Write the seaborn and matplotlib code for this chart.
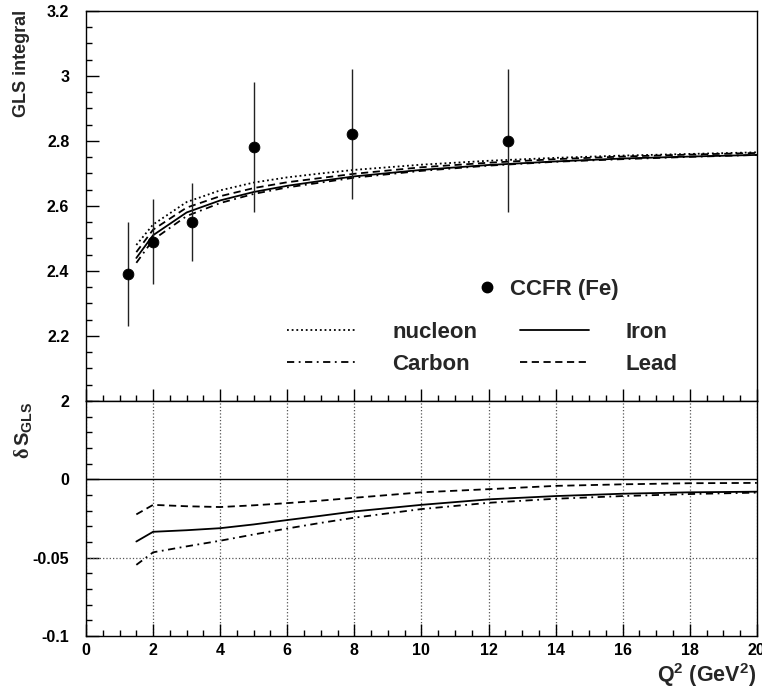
import matplotlib
matplotlib.use('Agg')
import matplotlib.pyplot as plt
from matplotlib.lines import Line2D
from matplotlib.ticker import MultipleLocator, FixedLocator, FuncFormatter
import seaborn as sns
import numpy as np

# CCFR (Fe) data points
ccfr_q2 = [1.26, 2.00, 3.16, 5.01, 7.94, 12.59]
ccfr_gls = [2.39, 2.49, 2.55, 2.78, 2.82, 2.80]
ccfr_err = [0.16, 0.13, 0.12, 0.20, 0.20, 0.22]

# theory curves
q2 = [1.5, 2, 3, 4, 5, 6, 7, 8, 10, 12, 14, 16, 18, 20]
gls_nucleon = [2.480, 2.543, 2.612, 2.648, 2.672, 2.688, 2.700, 2.711, 2.727, 2.739, 2.748, 2.755, 2.760, 2.765]
gls_iron = [2.440, 2.510, 2.580, 2.617, 2.643, 2.662, 2.677, 2.691, 2.711, 2.726, 2.737, 2.746, 2.752, 2.757]
gls_lead = [2.458, 2.527, 2.595, 2.630, 2.655, 2.673, 2.686, 2.699, 2.719, 2.733, 2.744, 2.752, 2.758, 2.763]
gls_carbon = [2.425, 2.496, 2.569, 2.609, 2.637, 2.657, 2.672, 2.687, 2.708, 2.724, 2.736, 2.744, 2.751, 2.757]

# delta S_GLS
d_iron = [-0.0397, -0.0335, -0.0325, -0.0312, -0.0288, -0.0260, -0.0233, -0.0205, -0.0163, -0.0128, -0.0107, -0.0092, -0.0083, -0.0079]
d_lead = [-0.0224, -0.0163, -0.0172, -0.0177, -0.0166, -0.0152, -0.0136, -0.0118, -0.0083, -0.0063, -0.0042, -0.0032, -0.0025, -0.0023]
d_carbon = [-0.0546, -0.0466, -0.0428, -0.0392, -0.0352, -0.0314, -0.0278, -0.0245, -0.0190, -0.0150, -0.0124, -0.0107, -0.0094, -0.0085]

sns.set_theme(style='ticks')
plt.rcParams['font.family'] = ['Liberation Sans', 'DejaVu Sans']
plt.rcParams['font.weight'] = 'bold'
plt.rcParams['mathtext.fontset'] = 'custom'
plt.rcParams['mathtext.rm'] = 'Liberation Sans:bold'
plt.rcParams['mathtext.bf'] = 'Liberation Sans:bold'
plt.rcParams['mathtext.it'] = 'Liberation Serif'

styles = {
    'nucleon': (0, (1, 1.6)),
    'iron': '-',
    'carbon': (0, (4, 2.5, 1, 2.5)),
    'lead': (0, (4, 2.5)),
}

fig = plt.figure(figsize=(7.62, 6.88), dpi=100)
ax1 = fig.add_axes([0.1129, 0.4172, 0.8803, 0.5669])
ax2 = fig.add_axes([0.1129, 0.0756, 0.8803, 0.3416], sharex=ax1)

lw = 1.3
sns.lineplot(x=q2, y=gls_nucleon, ax=ax1, color='black', lw=lw, linestyle=styles['nucleon'])
sns.lineplot(x=q2, y=gls_lead, ax=ax1, color='black', lw=lw, linestyle=styles['lead'])
sns.lineplot(x=q2, y=gls_iron, ax=ax1, color='black', lw=lw, linestyle=styles['iron'])
sns.lineplot(x=q2, y=gls_carbon, ax=ax1, color='black', lw=lw, linestyle=styles['carbon'])

ax1.errorbar(ccfr_q2, ccfr_gls, yerr=ccfr_err, fmt='none', ecolor='#222222', elinewidth=1.0, capsize=0)
sns.scatterplot(x=ccfr_q2, y=ccfr_gls, ax=ax1, color='black', s=60, edgecolor='black', zorder=5)

sns.lineplot(x=q2, y=d_lead, ax=ax2, color='black', lw=lw, linestyle=styles['lead'])
sns.lineplot(x=q2, y=d_iron, ax=ax2, color='black', lw=lw, linestyle=styles['iron'])
sns.lineplot(x=q2, y=d_carbon, ax=ax2, color='black', lw=lw, linestyle=styles['carbon'])
ax2.axhline(0, color='black', lw=1.0)
ax2.axhline(-0.05, color='#555555', lw=0.9, linestyle=':')
ax2.grid(axis='x', which='major', color='#555555', lw=0.9, linestyle=':')

fmt = FuncFormatter(lambda v, p: f'{v:g}')
for ax in (ax1, ax2):
    ax.set_xlim(0, 20)
    ax.xaxis.set_major_locator(MultipleLocator(2))
    ax.xaxis.set_minor_locator(MultipleLocator(0.5))
    ax.tick_params(which='both', direction='in', top=False, right=False, colors='black',
                   labelsize=11.5, width=1.0)
    ax.tick_params(which='major', length=9)
    ax.tick_params(which='minor', length=4.5)
    ax.tick_params(axis='y', pad=12)
    ax.tick_params(axis='x', pad=5)
    for s in ax.spines.values():
        s.set_color('black')
        s.set_linewidth(1.0)
    ax.yaxis.set_major_formatter(fmt)
    ax.xaxis.set_major_formatter(fmt)
    ax.set_xlabel('')
    ax.set_ylabel('')
    for lab in ax.get_xticklabels() + ax.get_yticklabels():
        lab.set_fontweight('bold')

ax1.set_ylim(2.0, 3.2)
ax1.yaxis.set_major_locator(MultipleLocator(0.2))
ax1.yaxis.set_minor_locator(MultipleLocator(0.05))
ax1.tick_params(axis='x', labelbottom=False)

ax2.set_ylim(-0.1, 0.05)
ax2.yaxis.set_major_locator(FixedLocator([-0.1, -0.05, 0]))
ax2.yaxis.set_minor_locator(MultipleLocator(0.01))

fig.text(22 / 762, 1 - 10 / 688, 'GLS integral', rotation=90, ha='center', va='top',
         fontsize=13, fontweight='bold')
fig.text(23 / 762, 1 - 402 / 688, r'$\delta\,\mathbf{S}_{\mathbf{GLS}}$', rotation=90,
         ha='center', va='top', fontsize=14.5)
fig.text(756 / 762, 1 - 675 / 688, r'$\mathbf{Q^2\ (GeV^2)}$', ha='right', va='center',
         fontsize=15.5)

# legends
h_ccfr = [Line2D([], [], marker='o', color='black', ls='none', markersize=7.5)]
leg1 = ax1.legend(h_ccfr, ['CCFR (Fe)'], loc='center left', bbox_to_anchor=(476 / 762, 1 - 289 / 688),
                  bbox_transform=fig.transFigure, frameon=False, fontsize=16,
                  handlelength=1.0, handletextpad=0.55, borderpad=0, borderaxespad=0)
ax1.add_artist(leg1)

names = ['nucleon', 'Carbon', 'Iron', 'Lead']
keys = ['nucleon', 'carbon', 'iron', 'lead']
handles = [Line2D([], [], color='black', lw=lw, linestyle=styles[k]) for k in keys]
ax1.legend(handles, names, ncol=2, loc='upper left', bbox_to_anchor=(287 / 762, 1 - 322 / 688),
           bbox_transform=fig.transFigure, frameon=False, fontsize=16,
           handlelength=3.1, handletextpad=1.65, columnspacing=1.9, labelspacing=0.5,
           borderpad=0, borderaxespad=0)

fig.savefig('out.png', dpi=100)
